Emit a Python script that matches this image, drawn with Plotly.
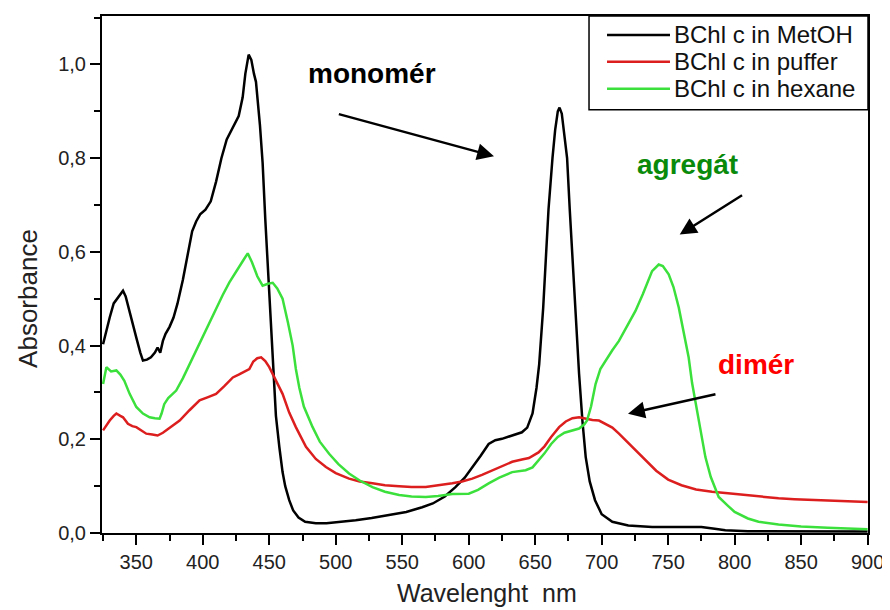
import plotly.graph_objects as go

# ---- data ----
metoh_nm = [325, 328, 330, 333, 336, 338, 340, 342, 345, 348, 350, 353, 355, 358, 361, 364, 366, 368,
            370, 372, 375, 378, 381, 385, 389, 392, 395, 398, 402, 406, 410, 414, 418, 421, 424, 427,
            430, 432, 434.5, 436.5, 438.5, 440, 443, 445, 447, 449, 451, 453, 455, 457.6, 460, 462,
            465, 468, 472, 477, 485, 493, 505, 515, 527, 540, 553, 565, 573, 582, 590, 597, 603, 609,
            615, 620, 625, 632, 640, 644, 648, 651, 653, 656, 658, 660, 663, 665, 667, 668.3, 670, 672,
            674, 676, 678, 680.5, 683, 685.5, 688, 691, 695, 700, 708, 720, 738, 760, 775, 785, 793,
            810, 850, 900]
metoh_abs = [0.403, 0.44, 0.46, 0.49, 0.502, 0.51, 0.517, 0.505, 0.474, 0.44, 0.417, 0.385, 0.368, 0.37,
             0.375, 0.385, 0.396, 0.385, 0.41, 0.425, 0.44, 0.46, 0.49, 0.54, 0.60, 0.644, 0.665, 0.68,
             0.69, 0.708, 0.75, 0.80, 0.84, 0.857, 0.872, 0.89, 0.93, 0.98, 1.021, 1.01, 0.98, 0.963,
             0.87, 0.79, 0.67, 0.56, 0.44, 0.33, 0.25, 0.183, 0.13, 0.10, 0.07, 0.048, 0.033, 0.024,
             0.021, 0.021, 0.024, 0.027, 0.032, 0.038, 0.045, 0.055, 0.063, 0.078, 0.098, 0.118, 0.141,
             0.165, 0.19, 0.198, 0.201, 0.207, 0.215, 0.225, 0.255, 0.31, 0.36, 0.48, 0.59, 0.69, 0.80,
             0.86, 0.90, 0.908, 0.895, 0.85, 0.80, 0.69, 0.588, 0.46, 0.34, 0.24, 0.162, 0.11, 0.07,
             0.04, 0.024, 0.016, 0.013, 0.013, 0.013, 0.009, 0.006, 0.004, 0.004, 0.003]

puffer_nm = [325, 328, 330, 333, 335, 338, 340, 343.7, 347, 350, 354, 357.5, 362, 366, 370, 372.5, 377,
             382.6, 390, 397.6, 404, 410, 416, 422.6, 427, 430, 435, 438, 441, 443.9, 447, 450, 455,
             460, 465, 470, 477.6, 485, 492.6, 500, 510, 518, 527.6, 537, 547.7, 557, 567.7, 577, 587.7,
             595, 602.7, 610, 617.7, 625, 632.7, 640, 645.3, 652.5, 657, 662, 668, 673, 678, 683, 688,
             693, 698, 703, 708, 713, 718, 725, 733, 741, 750, 760, 771, 783, 795, 808, 820, 833, 845,
             860, 880, 900]
puffer_abs = [0.219, 0.232, 0.24, 0.25, 0.255, 0.25, 0.247, 0.233, 0.228, 0.226, 0.218, 0.212, 0.21,
              0.208, 0.214, 0.219, 0.228, 0.24, 0.262, 0.283, 0.29, 0.297, 0.313, 0.332, 0.338, 0.343,
              0.35, 0.366, 0.373, 0.375, 0.367, 0.354, 0.325, 0.297, 0.257, 0.226, 0.184, 0.158, 0.141,
              0.128, 0.116, 0.11, 0.106, 0.102, 0.10, 0.098, 0.098, 0.101, 0.106, 0.11, 0.116, 0.124,
              0.134, 0.143, 0.152, 0.157, 0.16, 0.172, 0.185, 0.205, 0.226, 0.238, 0.245, 0.247, 0.244,
              0.241, 0.240, 0.233, 0.225, 0.212, 0.198, 0.177, 0.155, 0.133, 0.114, 0.102, 0.093, 0.088,
              0.085, 0.081, 0.077, 0.074, 0.072, 0.07, 0.068, 0.066]

hexane_nm = [325, 327.5, 331, 335, 338, 341, 345, 350, 355, 360, 364, 367.5, 369, 371, 374, 380, 385,
             390, 395, 400, 405, 410, 415, 420, 425, 430, 433.8, 437, 441, 445, 449, 452.6, 456, 460,
             464, 467.6, 470, 472.6, 476, 482.6, 488, 495, 502, 510, 518, 527.6, 537, 547.7, 557, 567.7,
             577, 587.7, 600, 607, 615, 623, 632.7, 642.8, 648, 652.8, 657, 662, 667, 672, 678, 683,
             687, 689, 692, 695.4, 699, 703, 708, 713, 719, 725.4, 731, 737.9, 742.9, 746, 750.4, 754,
             758, 762, 765.4, 768, 771, 774, 778, 782, 788, 795, 800, 810, 818, 833, 850, 870, 900]
hexane_abs = [0.318, 0.354, 0.345, 0.347, 0.338, 0.325, 0.297, 0.269, 0.255, 0.247, 0.245, 0.244, 0.255,
              0.275, 0.288, 0.304, 0.33, 0.36, 0.389, 0.418, 0.45, 0.481, 0.508, 0.535, 0.559, 0.58,
              0.597, 0.578, 0.548, 0.528, 0.532, 0.534, 0.522, 0.50, 0.45, 0.40, 0.35, 0.31, 0.27,
              0.226, 0.195, 0.169, 0.147, 0.127, 0.112, 0.098, 0.088, 0.081, 0.078, 0.077, 0.079, 0.083,
              0.084, 0.092, 0.106, 0.118, 0.130, 0.134, 0.14, 0.155, 0.17, 0.19, 0.205, 0.214, 0.219,
              0.223, 0.232, 0.24, 0.27, 0.318, 0.35, 0.368, 0.39, 0.41, 0.44, 0.474, 0.51, 0.559, 0.573,
              0.57, 0.552, 0.525, 0.481, 0.42, 0.375, 0.32, 0.27, 0.22, 0.162, 0.12, 0.077, 0.058, 0.045,
              0.031, 0.024, 0.018, 0.014, 0.011, 0.008]

series_names = ["BChl c in MetOH", "BChl c in puffer", "BChl c in hexane"]
series_colors = ["#000000", "#dc1e1e", "#3ce03c"]

FONT = "Arial, Liberation Sans, sans-serif"

fig = go.Figure()
for nm, ab, name, col in zip([metoh_nm, puffer_nm, hexane_nm],
                             [metoh_abs, puffer_abs, hexane_abs],
                             series_names, series_colors):
    fig.add_trace(go.Scatter(x=nm, y=ab, mode="lines", name=name, showlegend=False,
                             line=dict(color=col, width=2.5)))

axis_common = dict(showgrid=False, zeroline=False, showline=True, linecolor="black",
                   linewidth=2, mirror=True, ticks="outside", ticklen=10, tickwidth=2,
                   tickcolor="black", tickfont=dict(family=FONT, size=20, color="#222"))

fig.update_xaxes(range=[324.2, 900.3], tick0=350, dtick=50,
                 minor=dict(ticks="outside", ticklen=6, tickwidth=2, tickcolor="black",
                            tick0=325, dtick=25),
                 **axis_common)
fig.update_yaxes(range=[0, 1.1035], tick0=0, dtick=0.2, tickformat=".1f",
                 minor=dict(ticks="outside", ticklen=6, tickwidth=2, tickcolor="black",
                            tick0=0, dtick=0.1),
                 **axis_common)

annots = [
    dict(text="monomér", x=526.9, y=0.980, color="black"),
    dict(text="agregát", x=764.5, y=0.787, color="#0a8a0a"),
    dict(text="dimér", x=816.3, y=0.359, color="#ff0000"),
]
for a in annots:
    fig.add_annotation(x=a["x"], y=a["y"], xref="x", yref="y", text="<b>%s</b>" % a["text"],
                       showarrow=False, font=dict(family=FONT, size=28, color=a["color"]),
                       xanchor="center", yanchor="middle")

arrows = [  # (tip_x, tip_y, tail_x, tail_y) in data units
    (619.0, 0.804, 501.2, 0.895),
    (758.7, 0.637, 806.7, 0.723),
    (719.8, 0.2545, 786.7, 0.297),
]
for tx, ty, sx, sy in arrows:
    fig.add_annotation(x=tx, y=ty, xref="x", yref="y", ax=sx, ay=sy, axref="x", ayref="y",
                       text="", showarrow=True, arrowhead=2, arrowsize=1.35, arrowwidth=2.5,
                       arrowcolor="black")

fig.add_annotation(text="Absorbance", xref="paper", yref="paper", x=-0.0966, y=0.4528,
                   textangle=-90, showarrow=False, xanchor="center", yanchor="middle",
                   font=dict(family=FONT, size=26, color="#222"))
fig.add_annotation(text="Wavelenght\u00a0\u00a0nm", xref="paper", yref="paper", x=0.5026, y=-0.117,
                   showarrow=False, xanchor="center", yanchor="middle",
                   font=dict(family=FONT, size=25, color="#222"))

# ---- legend box (drawn in the top-right corner of the frame) ----
fig.add_shape(type="rect", xref="paper", yref="paper", x0=0.6358, x1=1.0, y0=0.8189, y1=1.0,
              line=dict(color="black", width=1.5), fillcolor="white", layer="above")
legend_rows = [0.9634, 0.9114, 0.8593]
for name, col, ry in zip(series_names, series_colors, legend_rows):
    fig.add_shape(type="line", xref="paper", yref="paper", x0=0.6593, x1=0.7415, y0=ry, y1=ry,
                  line=dict(color=col, width=2.5), layer="above")
    fig.add_annotation(text=name, xref="paper", yref="paper", x=0.7441, y=ry,
                       xanchor="left", yanchor="middle", showarrow=False,
                       font=dict(family=FONT, size=24, color="#111"))

# the page body adds an 8 px offset, so the figure is sized/margined to compensate
fig.update_layout(
    width=882, height=602, autosize=False,
    margin=dict(l=94, r=22, t=6, b=77),
    paper_bgcolor="white", plot_bgcolor="white",
    separators=", ",
    showlegend=False,
)

fig.write_html("out.html")
